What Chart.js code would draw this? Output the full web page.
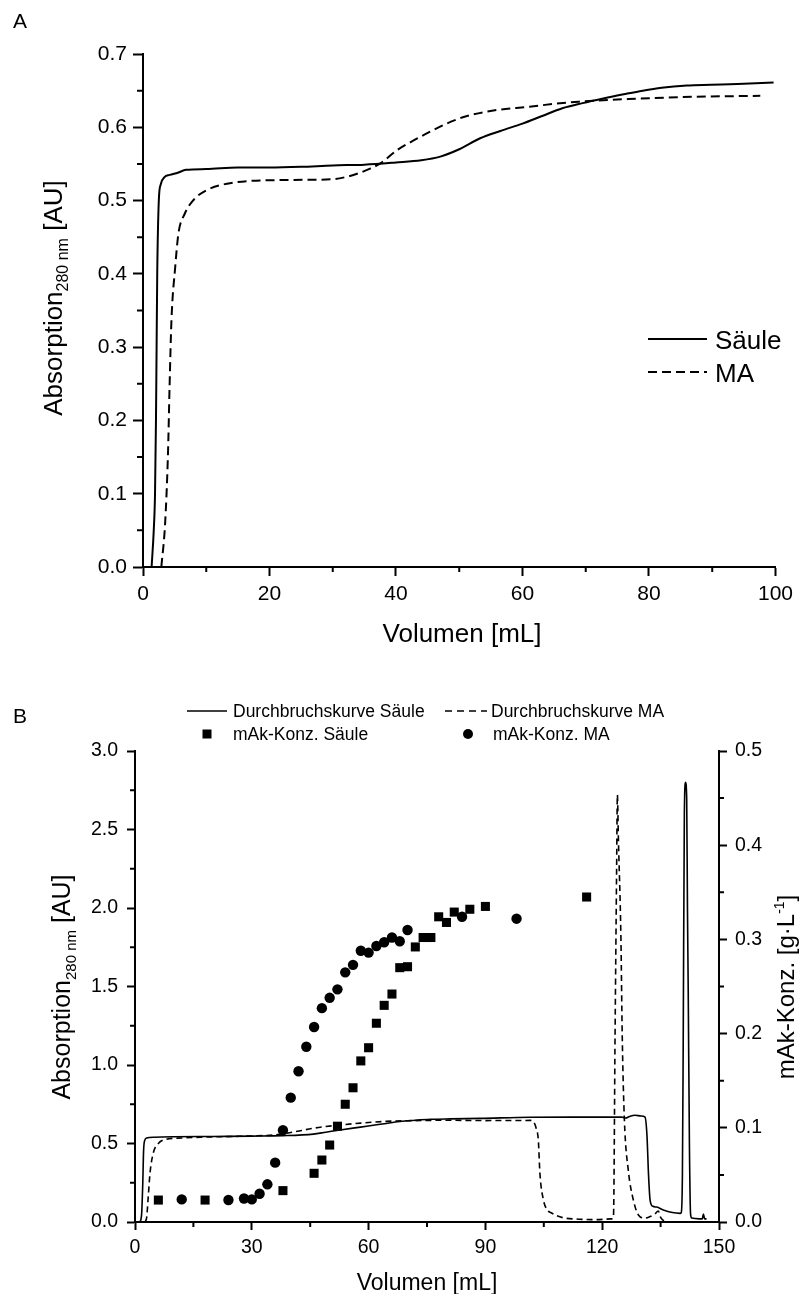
<!DOCTYPE html>
<html><head><meta charset="utf-8">
<script src="https://cdn.jsdelivr.net/npm/chart.js@4.4.1/dist/chart.umd.min.js"></script>
<style>
html,body{margin:0;padding:0;background:#fff;}
#wrap{position:relative;width:799px;height:1294px;background:#fff;overflow:hidden;}
#ca{position:absolute;left:0;top:0;}
#cb{position:absolute;left:0;top:650px;}
</style></head><body>
<div id="wrap">
<canvas id="ca" width="799" height="650"></canvas>
<canvas id="cb" width="799" height="644"></canvas>
</div>
<script>
const FONT = '"Liberation Sans", Arial, Helvetica, sans-serif';

// ---------- Panel A data: [Volumen mL, Absorption AU] ----------
const saeuleA = [[1.36,0],[1.7,0.05],[1.9,0.1],[2.05,0.2],[2.15,0.3],[2.25,0.4],[2.5,0.5],[2.8,0.522],[3.4,0.532],[4.2,0.535],[5.5,0.538],[6.8,0.542],[10,0.543],[15,0.545],[20,0.545],[25,0.546],[30,0.548],[35,0.549],[40,0.552],[44,0.555],[47,0.56],[50,0.57],[53.3,0.585],[56.5,0.595],[60,0.605],[63,0.615],[66.3,0.626],[69.5,0.633],[72.6,0.639],[76,0.645],[79,0.65],[82,0.654],[86,0.657],[89.8,0.658],[94,0.659],[99.7,0.661]];
const maA = [[2.9,0],[3.5,0.06],[3.95,0.155],[4.2,0.246],[4.5,0.337],[5.1,0.41],[5.6,0.455],[6.6,0.482],[7.9,0.5],[10,0.514],[14,0.524],[22,0.528],[29.8,0.529],[32,0.532],[34,0.537],[36,0.544],[37.6,0.551],[40.2,0.569],[43,0.583],[45.4,0.594],[48,0.605],[50.7,0.614],[53,0.619],[55.9,0.6235],[61.1,0.628],[65,0.632],[68.9,0.635],[76.7,0.6385],[87.2,0.6416],[97.6,0.643]];
const xTicksA = [0,20,40,60,80,100];
const xMinorA = [10,30,50,70,90];
const yTicksA = [0,0.1,0.2,0.3,0.4,0.5,0.6,0.7];
const yMinorA = [0.05,0.15,0.25,0.35,0.45,0.55,0.65];

// ---------- Panel B data ----------
const saeuleB = [[1.3,0],[1.7,0.05],[2.0,0.25],[2.2,0.45],[2.5,0.52],[3.0,0.535],[5,0.54],[10,0.543],[20,0.545],[30,0.547],[38,0.55],[45.8,0.56],[49,0.572],[52.7,0.586],[56,0.598],[59.5,0.61],[64,0.626],[68,0.64],[72,0.648],[76,0.654],[81,0.657],[88.6,0.66],[101.5,0.667],[112,0.668],[125,0.668],[126,0.662],[127,0.672],[128.4,0.68],[130,0.675],[131,0.668],[131.5,0.55],[131.9,0.3],[132.3,0.14],[133,0.1],[134,0.095],[135.7,0.076],[138,0.06],[140,0.055],[140.3,0.06],[140.6,0.3],[140.8,1.1],[141.1,2.6],[141.4,2.8],[141.7,2.7],[141.9,2.0],[142.1,1.46],[142.4,0.5],[142.7,0.05],[143,0.025],[145,0.02],[145.7,0.02],[146,0.05],[146.3,0.02],[146.8,0.02]];
const maB = [[2.6,0],[3.0,0.03],[3.4,0.16],[3.85,0.31],[4.7,0.44],[6.0,0.5],[8.1,0.527],[12,0.535],[16.7,0.54],[25.3,0.545],[30,0.548],[35.5,0.554],[40,0.57],[45.8,0.597],[49,0.608],[52.7,0.618],[58,0.63],[63.8,0.64],[70,0.645],[81,0.648],[90,0.646],[101.5,0.647],[102.3,0.64],[103,0.6],[103.6,0.52],[104,0.31],[104.9,0.14],[105.8,0.08],[107,0.057],[110,0.027],[114,0.018],[118.6,0.015],[122.4,0.02],[122.9,0.04],[123.3,1.18],[123.7,2.24],[123.9,2.72],[124.15,2.45],[124.8,1.82],[125.15,1.18],[125.7,0.65],[126.7,0.33],[128,0.14],[129.3,0.045],[131,0.025],[132.3,0.035],[133.5,0.05],[134.4,0.07],[135,0.03],[135.7,0.01],[137,0]];
// mAk concentration [g/L]
const konzSaeuleB = [[6,0.0233],[18,0.0233],[38,0.0333],[46,0.0517],[48,0.0658],[50,0.0817],[52,0.1017],[54,0.125],[56,0.1425],[58,0.171],[60,0.185],[62,0.211],[64,0.23],[66,0.242],[68,0.27],[70,0.271],[72,0.292],[74,0.302],[76,0.302],[78,0.324],[80,0.318],[82,0.329],[86,0.332],[90,0.335],[116,0.345]];
const konzMaB = [[12,0.024],[24,0.0233],[28,0.025],[30,0.024],[32,0.03],[34,0.04],[36,0.063],[38,0.0975],[40,0.132],[42,0.16],[44,0.186],[46,0.207],[48,0.227],[50,0.238],[52,0.247],[54,0.265],[56,0.273],[58,0.288],[60,0.286],[62,0.293],[64,0.297],[66,0.302],[68,0.298],[70,0.31],[84,0.324],[98,0.322]];
const xTicksB = [0,30,60,90,120,150];
const xMinorB = [15,45,75,105,135];
const yTicksB = [0,0.5,1.0,1.5,2.0,2.5,3.0];
const yMinorB = [0.25,0.75,1.25,1.75,2.25,2.75];
const y2TicksB = [0,0.1,0.2,0.3,0.4,0.5];
const y2MinorB = [0.05,0.15,0.25,0.35,0.45];

const pts = a => a.map(p => ({x:p[0], y:p[1]}));
const setTicks = arr => (axis => { axis.ticks = arr.map(v => ({value:v})); });

function minorTicks(chart, id, values, len, width) {
  const s = chart.scales[id], ctx = chart.ctx;
  ctx.save(); ctx.strokeStyle = '#000'; ctx.lineWidth = width; ctx.beginPath();
  values.forEach(v => {
    const p = s.getPixelForValue(v);
    if (s.isHorizontal()) { ctx.moveTo(p, s.top); ctx.lineTo(p, s.top + len); }
    else if (s.position === 'left') { ctx.moveTo(s.right, p); ctx.lineTo(s.right - len, p); }
    else { ctx.moveTo(s.left, p); ctx.lineTo(s.left + len, p); }
  });
  ctx.stroke(); ctx.restore();
}
function drawRich(ctx, parts, cx, cy, rot, align) {
  ctx.save(); ctx.translate(cx, cy); if (rot) ctx.rotate(rot);
  let total = 0;
  parts.forEach(p => { ctx.font = p.size + 'px ' + FONT; p.w = ctx.measureText(p.t).width; total += p.w; });
  let x = align === 'left' ? 0 : -total / 2;
  ctx.fillStyle = '#000'; ctx.textBaseline = 'alphabetic'; ctx.textAlign = 'left';
  parts.forEach(p => { ctx.font = p.size + 'px ' + FONT; ctx.fillText(p.t, x, p.dy || 0); x += p.w; });
  ctx.restore();
}
function seg(ctx, x1, y1, x2, y2, w, dash) {
  ctx.save(); ctx.strokeStyle = '#000'; ctx.lineWidth = w; ctx.setLineDash(dash || []);
  ctx.beginPath(); ctx.moveTo(x1, y1); ctx.lineTo(x2, y2); ctx.stroke(); ctx.restore();
}

function axisX(min, max, ticks, size, tl, pad, h) {
  return {type:'linear', min, max, afterBuildTicks:setTicks(ticks),
    ticks:{font:{family:FONT, size}, color:'#000', padding:pad, maxRotation:0, autoSkip:false, callback:v => String(v)},
    grid:{drawOnChartArea:false, drawTicks:true, tickLength:tl, tickWidth:2, tickColor:'#000'},
    border:{display:true, color:'#000', width:2}, afterFit:s => { s.height = h; }};
}
function axisY(min, max, ticks, size, tl, pad, w, pos) {
  return {type:'linear', position:pos, min, max, afterBuildTicks:setTicks(ticks),
    ticks:{font:{family:FONT, size}, color:'#000', padding:pad, autoSkip:false, callback:v => Number(v).toFixed(1)},
    grid:{drawOnChartArea:false, drawTicks:true, tickLength:tl, tickWidth:2, tickColor:'#000'},
    border:{display:true, color:'#000', width:2}, afterFit:s => { s.width = w; }};
}

// ---------- Chart A ----------
const decorA = {id:'decorA', afterDraw(chart) {
  const ctx = chart.ctx;
  minorTicks(chart, 'x', xMinorA, 5, 2);
  minorTicks(chart, 'y', yMinorA, 6, 2);
  drawRich(ctx, [{t:'A', size:21}], 13, 28, 0, 'left');
  drawRich(ctx, [{t:'Volumen [mL]', size:26}], 462, 642, 0);
  drawRich(ctx, [{t:'Absorption', size:26}, {t:'280 nm', size:16, dy:6}, {t:' [AU]', size:26}], 62, 298, -Math.PI/2);
  seg(ctx, 648, 339, 707, 339, 2);
  drawRich(ctx, [{t:'Säule', size:26}], 715, 349, 0, 'left');
  seg(ctx, 648, 372, 707, 372, 2, [9,5]);
  drawRich(ctx, [{t:'MA', size:26}], 715, 382, 0, 'left');
}};
new Chart(document.getElementById('ca'), {
  type:'line',
  data:{datasets:[
    {label:'Säule', data:pts(saeuleA), borderColor:'#000', borderWidth:2, pointRadius:0, cubicInterpolationMode:'monotone', fill:false},
    {label:'MA', data:pts(maA), borderColor:'#000', borderWidth:2, borderDash:[9,5], pointRadius:0, cubicInterpolationMode:'monotone', fill:false}
  ]},
  options:{responsive:false, animation:false, events:[],
    layout:{padding:{top:54, right:17, left:0, bottom:0}},
    plugins:{legend:{display:false}, tooltip:{enabled:false}},
    scales:{x:axisX(0, 100, xTicksA, 21, 9, 6, 83), y:axisY(0, 0.7, yTicksA, 21, 10, 6, 143, 'left')}
  },
  plugins:[decorA]
});

// ---------- Chart B ----------
const OFF = 650;
const decorB = {id:'decorB', afterDraw(chart) {
  const ctx = chart.ctx;
  minorTicks(chart, 'x', xMinorB, 5, 2);
  minorTicks(chart, 'y', yMinorB, 5, 2);
  minorTicks(chart, 'y2', y2MinorB, 5, 2);
  drawRich(ctx, [{t:'B', size:21}], 13, 723 - OFF, 0, 'left');
  drawRich(ctx, [{t:'Volumen [mL]', size:23}], 427, 1290 - OFF, 0);
  drawRich(ctx, [{t:'Absorption', size:25}, {t:'280 nm', size:15, dy:6}, {t:' [AU]', size:25}], 70, 987 - OFF, -Math.PI/2);
  drawRich(ctx, [{t:'mAk-Konz. [g·L', size:24}, {t:'-1', size:14, dy:-10}, {t:']', size:24}], 794, 987 - OFF, -Math.PI/2);
  // legend
  seg(ctx, 187, 711 - OFF, 227, 711 - OFF, 1.6);
  drawRich(ctx, [{t:'Durchbruchskurve Säule', size:17.5}], 233, 717 - OFF, 0, 'left');
  seg(ctx, 445, 711 - OFF, 487, 711 - OFF, 1.6, [7,5]);
  drawRich(ctx, [{t:'Durchbruchskurve MA', size:17.5}], 491, 717 - OFF, 0, 'left');
  ctx.save(); ctx.fillStyle = '#000';
  ctx.fillRect(207 - 4.5, 734 - OFF - 4.5, 9, 9);
  ctx.beginPath(); ctx.arc(468, 734 - OFF, 5, 0, Math.PI*2); ctx.fill();
  ctx.restore();
  drawRich(ctx, [{t:'mAk-Konz. Säule', size:17.5}], 233, 740 - OFF, 0, 'left');
  drawRich(ctx, [{t:'mAk-Konz. MA', size:17.5}], 493, 740 - OFF, 0, 'left');
}};
new Chart(document.getElementById('cb'), {
  type:'line',
  data:{datasets:[
    {label:'mAk-Konz. Säule', data:pts(konzSaeuleB), yAxisID:'y2', showLine:false, pointStyle:'rect', pointRadius:6.4, pointBorderWidth:0, backgroundColor:'#000', borderColor:'#000', order:0},
    {label:'mAk-Konz. MA', data:pts(konzMaB), yAxisID:'y2', showLine:false, pointStyle:'circle', pointRadius:5.2, pointBorderWidth:0, backgroundColor:'#000', borderColor:'#000', order:0},
    {label:'Durchbruchskurve Säule', data:pts(saeuleB), yAxisID:'y', borderColor:'#000', borderWidth:1.6, pointRadius:0, cubicInterpolationMode:'monotone', fill:false, order:1},
    {label:'Durchbruchskurve MA', data:pts(maB), yAxisID:'y', borderColor:'#000', borderWidth:1.6, borderDash:[6,4], pointRadius:0, cubicInterpolationMode:'monotone', fill:false, order:1}
  ]},
  options:{responsive:false, animation:false, events:[],
    layout:{padding:{top:101, right:0, left:0, bottom:0}},
    plugins:{legend:{display:false}, tooltip:{enabled:false}},
    scales:{
      x:axisX(0, 150, xTicksB, 19.5, 8, 6, 72),
      y:axisY(0, 3.0, yTicksB, 19.5, 8, 9, 135, 'left'),
      y2:axisY(0, 0.5, y2TicksB, 19.5, 8, 8, 80, 'right')
    }
  },
  plugins:[decorB]
});
</script>
</body></html>
